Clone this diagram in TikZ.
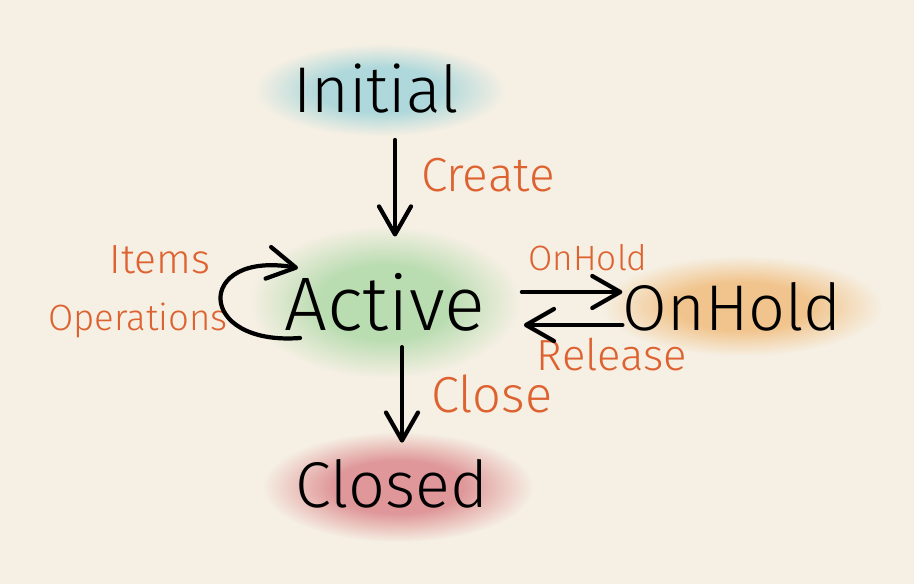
\documentclass[tikz,border=0pt]{standalone}
\usepackage{fontspec}
\setmainfont{Fira Sans Light}
\usetikzlibrary{arrows.meta,fadings}

\definecolor{paper}{RGB}{246,240,228}
\definecolor{ink}{RGB}{222,98,48}
\definecolor{blobcyan}{RGB}{150,208,216}
\definecolor{blobgreen}{RGB}{165,214,160}
\definecolor{blobamber}{RGB}{240,182,112}
\definecolor{blobrose}{RGB}{216,122,128}

% soft edged wash behind each state
\pgfdeclareradialshading{softblob}{\pgfpointorigin}{color(0bp)=(white); color(12bp)=(white); color(25bp)=(black); color(50bp)=(black)}
\pgfdeclarefading{soft}{\pgfuseshading{softblob}}

\tikzset{
  state/.style={anchor=base,inner sep=0pt,text=black},
  trans/.style={anchor=base,inner sep=0pt,text=ink},
  flow/.style={line width=3pt,line cap=round,-{Straight Barb[length=7mm,width=8mm,line cap=round,line join=round]}},
  wash/.style={path fading=soft,fill opacity=0.75}
}

\begin{document}
\begin{tikzpicture}[x=0.025cm,y=-0.025cm]
\fill[paper] (0,0) rectangle (914,584);
\useasboundingbox (0,0) rectangle (914,584);

% washes
\fill[blobcyan,wash] (380,90) ellipse (125 and 46);
\fill[blobgreen,wash] (385,302) ellipse (135 and 76);
\fill[blobamber,wash] (742,306) ellipse (140 and 50);
\fill[blobrose,wash] (398,487) ellipse (135 and 55);

% states
\node[state,font=\fontsize{46}{46}\selectfont] (initial) at (376,113) {Initial};
\node[state,font=\fontsize{54}{54}\selectfont] (active) at (385,330) {Active};
\node[state,font=\fontsize{46}{46}\selectfont] (onhold) at (732,330) {OnHold};
\node[state,font=\fontsize{46}{46}\selectfont] (closed) at (392,507) {Closed};

% transition names
\node[trans,font=\fontsize{34}{34}\selectfont] (create) at (488,192) {Create};
\node[trans,font=\fontsize{29}{29}\selectfont] (items) at (160,273) {Items};
\node[trans,font=\fontsize{26}{26}\selectfont] (operations) at (138,330) {Operations};
\node[trans,font=\fontsize{25}{25}\selectfont] (hold) at (588,270) {OnHold};
\node[trans,font=\fontsize{31}{31}\selectfont] (release) at (612,370) {Release};
\node[trans,font=\fontsize{36}{36}\selectfont] (close) at (492,412) {Close};

\coordinate (xcreate) at (395,0);
\coordinate (xclose) at (402,0);
\coordinate (yhold) at (0,292);
\coordinate (yrelease) at (0,325);
\coordinate (loopout) at (300,338);
\coordinate (loopin) at (298,268);

\draw[flow,shorten <=0.65cm,shorten >=0.9cm] (initial.south -| xcreate) -- (active.north -| xcreate);
\draw[flow,shorten <=0.9cm] (active.east |- yhold) -- (onhold.west |- yhold);
\draw[flow,shorten >=0.95cm] (onhold.west |- yrelease) -- (active.east |- yrelease);
\draw[flow,shorten <=0.4cm,shorten >=0.4cm] (active.south -| xclose) -- (closed.north -| xclose);
\draw[flow] (loopout) .. controls (195,346) and (195,250) .. (loopin);
\end{tikzpicture}
\end{document}
